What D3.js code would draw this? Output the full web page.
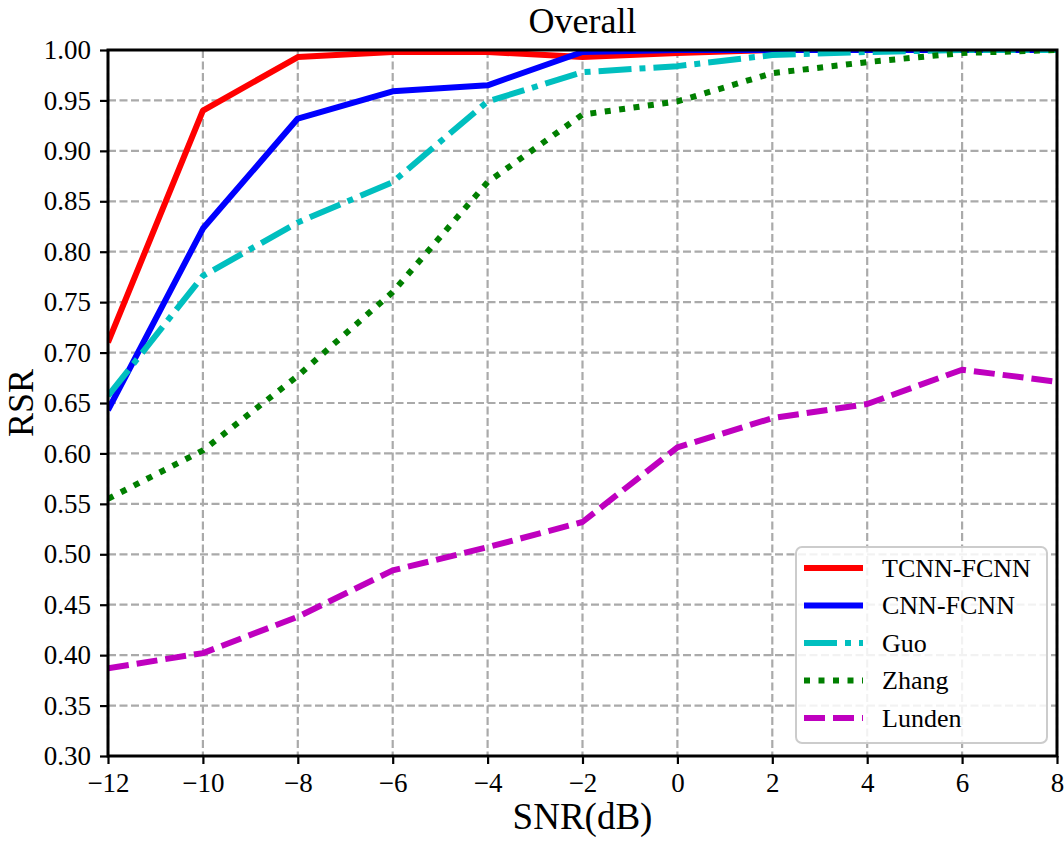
<!DOCTYPE html>
<html>
<head>
<meta charset="utf-8">
<script src="https://cdn.jsdelivr.net/npm/d3@7"></script>
<style>
  body { margin: 0; background: #fff; }
  text { font-family: "Liberation Serif", "Times New Roman", serif; fill: #000; }
</style>
</head>
<body>
<script>
// data
var snr = [-12, -10, -8, -6, -4, -2, 0, 2, 4, 6, 8];
var tcnnFcnn = [0.710, 0.940, 0.993, 0.998, 0.998, 0.993, 0.997, 1.0, 1.0, 1.0, 1.0];
var cnnFcnn  = [0.643, 0.823, 0.932, 0.959, 0.965, 0.998, 1.0, 1.0, 1.0, 1.0, 1.0];
var guo      = [0.657, 0.776, 0.829, 0.869, 0.949, 0.978, 0.984, 0.995, 0.998, 1.0, 1.0];
var zhang    = [0.555, 0.603, 0.677, 0.760, 0.869, 0.936, 0.949, 0.977, 0.988, 0.997, 1.0];
var lunden   = [0.387, 0.402, 0.438, 0.484, 0.507, 0.532, 0.606, 0.635, 0.649, 0.683, 0.671];
var seriesNames = ["TCNN-FCNN", "CNN-FCNN", "Guo", "Zhang", "Lunden"];
var xTicks = [-12, -10, -8, -6, -4, -2, 0, 2, 4, 6, 8];
var yTicks = [0.30, 0.35, 0.40, 0.45, 0.50, 0.55, 0.60, 0.65, 0.70, 0.75, 0.80, 0.85, 0.90, 0.95, 1.00];

var width = 1064,
    height = 844,
    margin = {top: 50, right: 7, bottom: 88, left: 108};
var plotW = width - margin.left - margin.right,
    plotH = height - margin.top - margin.bottom;

var series = [
  {name: seriesNames[0], values: tcnnFcnn, color: "#ff0000", dash: null},
  {name: seriesNames[1], values: cnnFcnn,  color: "#0000ff", dash: null},
  {name: seriesNames[2], values: guo,      color: "#00bfbf", dash: "33,8,6,8"},
  {name: seriesNames[3], values: zhang,    color: "#007f00", dash: "6,8.5"},
  {name: seriesNames[4], values: lunden,   color: "#bf00bf", dash: "21,8"}
];

var svg = d3.select("body")
  .append("svg")
    .attr("width", width)
    .attr("height", height);

var g = svg.append("g")
    .attr("transform", "translate(" + margin.left + "," + margin.top + ")");

var x = d3.scaleLinear().domain([-12, 8]).range([0, plotW]);
var y = d3.scaleLinear().domain([0.30, 1.00]).range([plotH, 0]);

svg.append("defs").append("clipPath")
    .attr("id", "plotclip")
  .append("rect")
    .attr("width", plotW)
    .attr("height", plotH);

// grid
g.append("g")
  .selectAll("line.vg")
  .data(xTicks)
  .enter().append("line")
    .attr("x1", function(d) { return x(d); })
    .attr("x2", function(d) { return x(d); })
    .attr("y1", 0)
    .attr("y2", plotH)
    .attr("stroke", "#aaaaaa")
    .attr("stroke-width", 2.2)
    .attr("stroke-dasharray", "8,3.5");
g.append("g")
  .selectAll("line.hg")
  .data(yTicks)
  .enter().append("line")
    .attr("x1", 0)
    .attr("x2", plotW)
    .attr("y1", function(d) { return y(d); })
    .attr("y2", function(d) { return y(d); })
    .attr("stroke", "#aaaaaa")
    .attr("stroke-width", 2.2)
    .attr("stroke-dasharray", "8,3.5");

// lines
var line = d3.line()
  .x(function(d, i) { return x(snr[i]); })
  .y(function(d) { return y(d); });

g.append("g")
    .attr("clip-path", "url(#plotclip)")
  .selectAll("path")
  .data(series)
  .enter().append("path")
    .attr("d", function(d) { return line(d.values); })
    .attr("fill", "none")
    .attr("stroke", function(d) { return d.color; })
    .attr("stroke-width", 6)
    .attr("stroke-dasharray", function(d) { return d.dash; })
    .attr("stroke-linejoin", "round");

// axes
var xAxis = g.append("g")
    .attr("transform", "translate(0," + plotH + ")")
    .call(d3.axisBottom(x).tickValues(xTicks).tickSize(8).tickPadding(9)
      .tickFormat(function(d) { return d < 0 ? "\u2212" + Math.abs(d) : d; }));
var yAxis = g.append("g")
    .call(d3.axisLeft(y).tickValues(yTicks).tickSize(8).tickPadding(9)
      .tickFormat(d3.format(".2f")));

[xAxis, yAxis].forEach(function(a) {
  a.select(".domain").remove();
  a.selectAll(".tick line").attr("stroke", "#000").attr("stroke-width", 2.2);
  a.selectAll(".tick text").style("font-size", "27px").attr("fill", "#000");
});

// frame
g.append("rect")
    .attr("width", plotW)
    .attr("height", plotH)
    .attr("fill", "none")
    .attr("stroke", "#000")
    .attr("stroke-width", 3);

// title and labels
svg.append("text")
    .attr("x", margin.left + plotW / 2)
    .attr("y", 33)
    .attr("text-anchor", "middle")
    .style("font-size", "36px")
    .text("Overall");

svg.append("text")
    .attr("x", margin.left + plotW / 2)
    .attr("y", 829)
    .attr("text-anchor", "middle")
    .style("font-size", "37px")
    .text("SNR(dB)");

svg.append("text")
    .attr("transform", "translate(33," + (margin.top + plotH / 2) + ") rotate(-90)")
    .attr("text-anchor", "middle")
    .style("font-size", "36px")
    .text("RSR");

// legend
var legend = svg.append("g")
    .attr("transform", "translate(796,547)");
legend.append("rect")
    .attr("width", 251)
    .attr("height", 196)
    .attr("rx", 6)
    .attr("fill", "#fff")
    .attr("fill-opacity", 0.85)
    .attr("stroke", "#cccccc")
    .attr("stroke-width", 2);

var items = legend.selectAll("g.item")
  .data(series)
  .enter().append("g")
    .attr("transform", function(d, i) { return "translate(0," + (21 + i * 37.5) + ")"; });
items.append("line")
    .attr("x1", 8)
    .attr("x2", 67)
    .attr("stroke", function(d) { return d.color; })
    .attr("stroke-width", 6)
    .attr("stroke-dasharray", function(d) { return d.dash; });
items.append("text")
    .attr("x", 86)
    .attr("dy", "0.33em")
    .style("font-size", "26px")
    .text(function(d) { return d.name; });
</script>
</body>
</html>
